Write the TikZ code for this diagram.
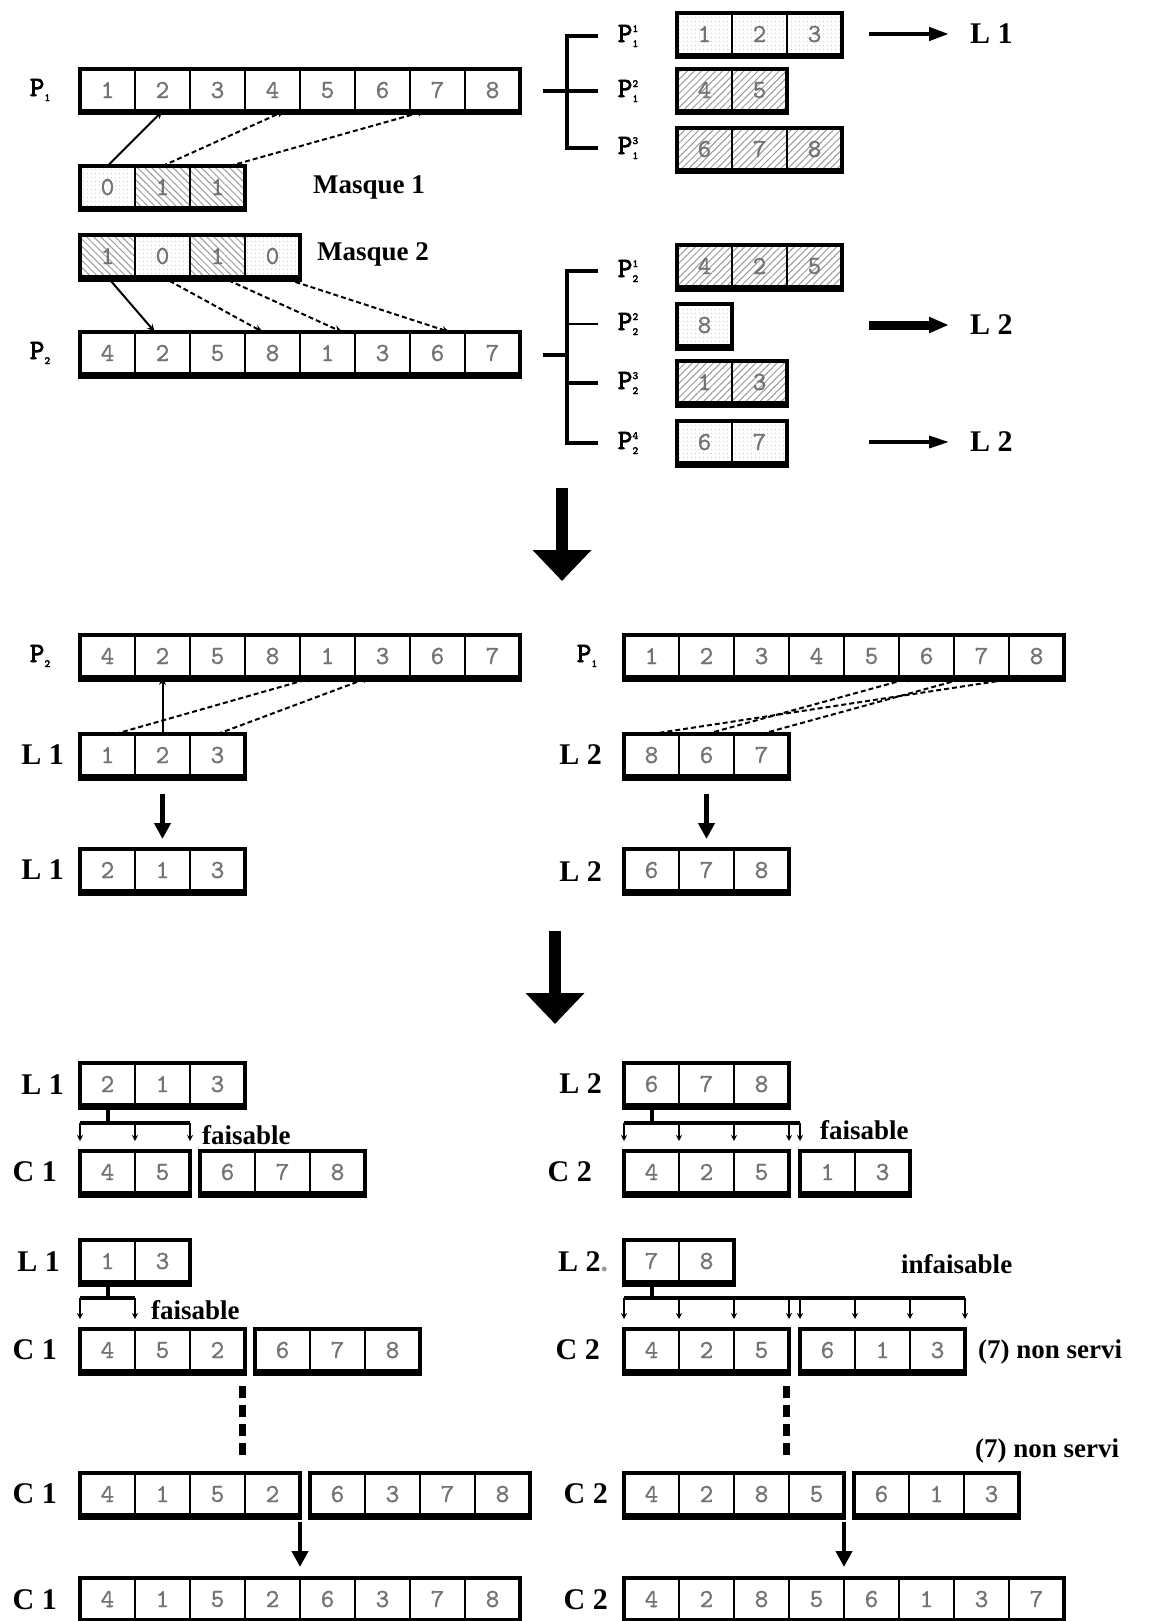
\documentclass[tikz,border=0pt]{standalone}
\usepackage{fontspec}
\setmainfont{Liberation Serif}
\newfontfamily\pfont{lmmono10-regular.otf}[FakeBold=2.5]
\newfontfamily\chiffres{lmmono10-regular.otf}[FakeBold=1]
\usetikzlibrary{arrows.meta,calc,patterns.meta}

% one framed row of cells: name, left x, centre y, values, cell style
\newcommand{\rangee}[5]{%
  \foreach \v [count=\i] in {#4} {
    \node[cellule,#5] (#1-\i) at ({#2+(\i-0.5)*55},#3) {\v};
    \xdef\nbcases{\i}
  }
  \draw[cadre] (#1-1.north west) rectangle (#1-\nbcases.south east);
  \draw[ombre] ([yshift=-3pt]#1-1.south west) -- ([yshift=-3pt]#1-\nbcases.south east);
}
\newcommand{\Pind}[2]{P\makebox[0pt][l]{\raisebox{10pt}{\fontsize{11}{11}\selectfont#2}}%
  \raisebox{-5pt}{\fontsize{11}{11}\selectfont#1}}

\begin{document}
\begin{tikzpicture}[
  x=1pt,y=-1pt,
  cellule/.style={draw,line width=2.5pt,minimum width=55pt,minimum height=42pt,
                  inner sep=0pt,outer sep=0pt,text=black!55,
                  font=\chiffres\fontsize{26}{26}\selectfont},
  cadre/.style={draw,line width=4pt},
  ombre/.style={line width=3pt,shorten <=-2pt,shorten >=-2pt},
  vide/.style={},
  hachure/.style={pattern={Lines[angle=45,distance=5pt,line width=1pt]},pattern color=black!40},
  hachureb/.style={pattern={Lines[angle=-45,distance=5pt,line width=1pt]},pattern color=black!40},
  points/.style={pattern={Dots[distance=4pt,radius=0.6pt]},pattern color=black!35},
  bit0/.style={points},
  bit1/.style={hachureb},
  etiq/.style={font=\bfseries\fontsize{30}{30}\selectfont,inner sep=0pt},
  etiqp/.style={font=\pfont\fontsize{28}{28}\selectfont,inner sep=0pt},
  texte/.style={font=\bfseries\fontsize{27}{27}\selectfont,inner sep=0pt,anchor=west},
  lien/.style={line width=2pt,-{Stealth[length=8pt,width=7pt]}},
  lienp/.style={lien,dash pattern=on 5pt off 3pt},
  fleche/.style={line width=4.5pt,-{Triangle[length=16pt,width=16pt]}},
  grossefleche/.style={line width=12pt,-{Triangle[length=31pt,width=57pt]}},
  versa/.style={line width=4.5pt,-{Triangle[length=20pt,width=13pt]}},
  versb/.style={line width=9pt,-{Triangle[length=20pt,width=15pt]}},
  versc/.style={line width=3.5pt,-{Triangle[length=20pt,width=12pt]}},
  accolade/.style={line width=4pt},
  arbre/.style={line width=4pt},
  branche/.style={line width=2pt,-{Stealth[length=6pt,width=6pt]}},
  pointilles/.style={line width=7pt,dash pattern=on 12pt off 7pt},
]
  \useasboundingbox (0,0) rectangle (1149,1621);

  % parent P1 and mask 1
  \node[etiqp] (np1) at (40,90) {\Pind{1}{}};
  \rangee{p1}{80}{90}{1,2,3,4,5,6,7,8}{vide}
  \rangee{m1}{80}{187}{0,1,1}{bit\v}
  \node[texte] (tm1) at (313,187) {Masque 1};
  \draw[lien] (m1-1.north) -- (p1-2.south);
  \draw[lienp] (m1-2.north) -- (p1-4.-60);
  \draw[lienp] (m1-3.60) -- (p1-7.-120);

  % pieces of P1
  \coordinate (j1) at (567,91);
  \draw[accolade] ($(j1)+(31,-55)$) -| (j1) |- ($(j1)+(31,57)$);
  \draw[accolade] ($(j1)+(-24,0)$) -- ($(j1)+(31,0)$);
  \node[etiqp] (np11) at (628,36) {\Pind{1}{1}};
  \node[etiqp] (np12) at (628,91) {\Pind{1}{2}};
  \node[etiqp] (np13) at (628,148) {\Pind{1}{3}};
  \rangee{p11}{677}{34}{1,2,3}{points}
  \rangee{p12}{677}{90}{4,5}{hachure}
  \rangee{p13}{677}{149}{6,7,8}{hachure}
  \node[etiq,anchor=west] (v1) at (970,34) {L 1};
  \draw[versa,shorten <=27pt,shorten >=21pt] (p11-3.east) -- (v1.west);

  % parent P2 and mask 2
  \rangee{m2}{80}{256}{1,0,1,0}{bit\v}
  \node[texte] (tm2) at (317,254) {Masque 2};
  \node[etiqp] (np2) at (40,353) {\Pind{2}{}};
  \rangee{p2}{80}{353}{4,2,5,8,1,3,6,7}{vide}
  \draw[lien] (m2-1.south) -- (p2-2.110);
  \draw[lienp] (m2-2.south) -- (p2-4.115);
  \draw[lienp] (m2-3.-80) -- (p2-5.55);
  \draw[lienp] (m2-4.-70) -- (p2-7.60);

  % pieces of P2
  \coordinate (j2) at (567,355);
  \draw[accolade] ($(j2)+(31,-84)$) -| ($(j2)+(0,88)$) -- ($(j2)+(31,88)$);
  \draw[accolade] ($(j2)+(-24,0)$) -- (j2);
  \draw[line width=2pt] ($(j2)+(0,-31)$) -- ($(j2)+(31,-31)$);
  \draw[accolade] ($(j2)+(0,28)$) -- ($(j2)+(31,28)$);
  \node[etiqp] (np21) at (628,271) {\Pind{2}{1}};
  \node[etiqp] (np22) at (628,324) {\Pind{2}{2}};
  \node[etiqp] (np23) at (628,383) {\Pind{2}{3}};
  \node[etiqp] (np24) at (628,443) {\Pind{2}{4}};
  \rangee{p21}{677}{266}{4,2,5}{hachure}
  \rangee{p22}{677}{325}{8}{points}
  \rangee{p23}{677}{382}{1,3}{hachure}
  \rangee{p24}{677}{442}{6,7}{points}
  \node[etiq,anchor=west] (v2) at (970,325) {L 2};
  \node[etiq,anchor=west] (v3) at (970,442) {L 2};
  \draw[versb,shorten <=137pt,shorten >=21pt] (p22-1.east) -- (v2.west);
  \draw[versc,shorten <=82pt,shorten >=21pt] (p24-2.east) -- (v3.west);

  % first big arrow
  \coordinate (g1h) at (562,488);
  \coordinate (g1b) at (562,581);
  \draw[grossefleche] (g1h) -- (g1b);

  % lists taken from the other parent
  \node[etiqp] (np2b) at (40,656) {\Pind{2}{}};
  \rangee{p2b}{80}{656}{4,2,5,8,1,3,6,7}{vide}
  \node[etiq,anchor=east] (el1a) at (64,755) {L 1};
  \rangee{l1a}{80}{755}{1,2,3}{vide}
  \draw[lien] (l1a-2.north) -- (p2b-2.south);
  \draw[lienp] (l1a-1.70) -- (p2b-5.-120);
  \draw[lienp] (l1a-3.north) -- (p2b-6.-120);
  \node[etiq,anchor=east] (el1b) at (64,870) {L 1};
  \rangee{l1b}{80}{870}{2,1,3}{vide}
  \draw[fleche,shorten <=18pt,shorten >=10pt] (l1a-2.south) -- (l1b-2.north);

  \node[etiqp] (np1b) at (587,656) {\Pind{1}{}};
  \rangee{p1b}{624}{656}{1,2,3,4,5,6,7,8}{vide}
  \node[etiq,anchor=east] (el2a) at (602,755) {L 2};
  \rangee{l2a}{624}{755}{8,6,7}{vide}
  \draw[lienp] (l2a-1.north) -- (p1b-8.-120);
  \draw[lienp] (l2a-2.north) -- (p1b-6.-120);
  \draw[lienp] (l2a-3.north) -- (p1b-7.-120);
  \node[etiq,anchor=east] (el2b) at (602,872) {L 2};
  \rangee{l2b}{624}{870}{6,7,8}{vide}
  \draw[fleche,shorten <=18pt,shorten >=10pt] (l2a-2.south) -- (l2b-2.north);

  % second big arrow
  \coordinate (g2h) at (555,931);
  \coordinate (g2b) at (555,1024);
  \draw[grossefleche] (g2h) -- (g2b);

  % insertion of L1
  \node[etiq,anchor=east] (el1c) at (64,1085) {L 1};
  \rangee{l1c}{80}{1084}{2,1,3}{vide}
  \node[etiq,anchor=east] (ec1a) at (57,1172) {C 1};
  \rangee{c1a}{80}{1172}{4,5}{vide}
  \rangee{c1b}{200}{1172}{6,7,8}{vide}
  \coordinate (b1) at ($(l1c-1.south)+(0,18)$);
  \draw[arbre] (l1c-1.south) -- (b1);
  \draw[arbre] (b1 -| c1a-1.north west) -- (b1 -| c1a-2.north east);
  \foreach \n/\a in {c1a-1/north west,c1a-2/north west,c1a-2/north east}
    \draw[branche] (b1 -| \n.\a) -- ([yshift=10pt]\n.\a);
  \node[texte] (tf1) at (202,1135) {faisable};

  \node[etiq,anchor=east] (el1d) at (60,1262) {L 1};
  \rangee{l1d}{80}{1261}{1,3}{vide}
  \node[etiq,anchor=east] (ec1c) at (57,1350) {C 1};
  \rangee{c1c}{80}{1350}{4,5,2}{vide}
  \rangee{c1d}{255}{1350}{6,7,8}{vide}
  \coordinate (b3) at ($(l1d-1.south)+(0,16)$);
  \draw[arbre] (l1d-1.south) -- (b3);
  \draw[arbre] (b3 -| c1c-1.north west) -- (b3 -| c1c-2.north west);
  \foreach \n/\a in {c1c-1/north west,c1c-2/north west}
    \draw[branche] (b3 -| \n.\a) -- ([yshift=10pt]\n.\a);
  \node[texte] (tf3) at (151,1310) {faisable};

  \node[etiq,anchor=east] (ec1e) at (57,1494) {C 1};
  \rangee{c1e}{80}{1494}{4,1,5,2}{vide}
  \rangee{c1f}{310}{1494}{6,3,7,8}{vide}
  \draw[pointilles,shorten <=15pt,shorten >=18pt] ($(c1c-3.south east)+(-3,0)$)
    -- ($(c1c-3.south east |- c1e-1.north)+(-3,0)$);
  \node[etiq,anchor=east] (ec1g) at (57,1600) {C 1};
  \rangee{c1g}{80}{1599}{4,1,5,2,6,3,7,8}{vide}
  \draw[fleche,shorten <=7pt,shorten >=11pt] (c1e-4.south east) -- (c1g-4.north east);

  % insertion of L2
  \node[etiq,anchor=east] (el2c) at (602,1084) {L 2};
  \rangee{l2c}{624}{1084}{6,7,8}{vide}
  \node[etiq,anchor=east] (ec2a) at (592,1172) {C 2};
  \rangee{c2a}{624}{1172}{4,2,5}{vide}
  \rangee{c2b}{800}{1172}{1,3}{vide}
  \coordinate (b2) at ($(l2c-1.south)+(0,18)$);
  \draw[arbre] (l2c-1.south) -- (b2);
  \draw[arbre] (b2 -| c2a-1.north west) -- (b2 -| c2b-1.north west);
  \foreach \n/\a in {c2a-1/north west,c2a-2/north west,c2a-3/north west,
                     c2a-3/north east,c2b-1/north west}
    \draw[branche] (b2 -| \n.\a) -- ([yshift=10pt]\n.\a);
  \node[texte] (tf2) at (820,1130) {faisable};

  \node[etiq,anchor=west] (el2d) at (558,1262) {L 2{\color{black!40}.}};
  \rangee{l2d}{624}{1261}{7,8}{vide}
  \node[texte] (ti4) at (901,1264) {infaisable};
  \node[etiq,anchor=east] (ec2c) at (600,1350) {C 2};
  \rangee{c2c}{624}{1350}{4,2,5}{vide}
  \rangee{c2d}{800}{1350}{6,1,3}{vide}
  \coordinate (b4) at ($(l2d-1.south)+(0,16)$);
  \draw[arbre] (l2d-1.south) -- (b4);
  \draw[arbre] (b4 -| c2c-1.north west) -- (b4 -| c2d-3.north east);
  \foreach \n/\a in {c2c-1/north west,c2c-2/north west,c2c-3/north west,c2c-3/north east,
                     c2d-1/north west,c2d-2/north west,c2d-3/north west,c2d-3/north east}
    \draw[branche] (b4 -| \n.\a) -- ([yshift=10pt]\n.\a);
  \node[texte] (tn1) at (978,1352) {(7) non servi};

  \node[texte] (tn2) at (975,1451) {(7) non servi};
  \node[etiq,anchor=east] (ec2e) at (608,1494) {C 2};
  \rangee{c2e}{624}{1494}{4,2,8,5}{vide}
  \rangee{c2f}{854}{1494}{6,1,3}{vide}
  \draw[pointilles,shorten <=15pt,shorten >=18pt] ($(c2c-3.south east)+(-3,0)$)
    -- ($(c2c-3.south east |- c2e-1.north)+(-3,0)$);
  \node[etiq,anchor=east] (ec2g) at (608,1600) {C 2};
  \rangee{c2g}{624}{1599}{4,2,8,5,6,1,3,7}{vide}
  \draw[fleche,shorten <=7pt,shorten >=11pt] (c2e-4.south east) -- (c2g-4.north east);
\end{tikzpicture}
\end{document}
